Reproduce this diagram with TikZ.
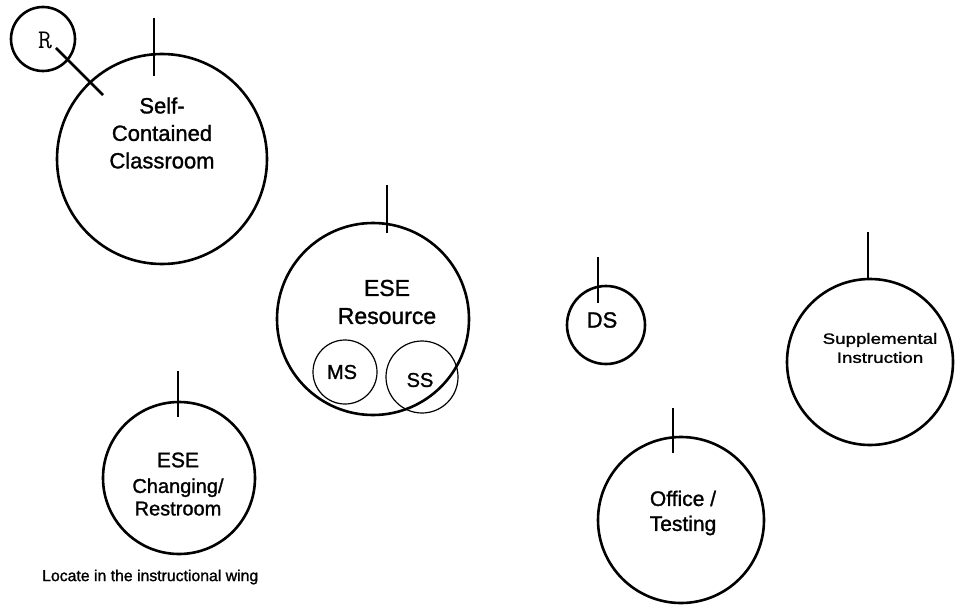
\documentclass[tikz,border=0pt]{standalone}
\usepackage{fontspec}
\setmainfont{Liberation Sans}[FakeBold=1.3]
\begin{document}
\begin{tikzpicture}[x=1pt,y=-1pt,
  room/.style={circle, draw, line width=2.6pt, inner sep=0pt},
  subroom/.style={circle, draw, line width=1.2pt, inner sep=0pt},
  tick/.style={line width=2.6pt},
  lbl/.style={align=center, inner sep=0pt},
]
\useasboundingbox (0,0) rectangle (955,607);

% rooms
\node[room, minimum size=210pt] (sc)  at (162,159) {};
\node[room, minimum size=64pt]  (r)   at (43,39) {};
\node[room, minimum size=192pt] (res) at (373,319) {};
\node[subroom, minimum size=64pt] (ms) at (345,372) {};
\node[subroom, minimum size=72pt] (ss) at (422,377) {};
\node[room, minimum size=78pt]  (ds)  at (606,325) {};
\node[room, minimum size=166pt] (sup) at (870,362) {};
\node[room, minimum size=152pt] (chg) at (179,478) {};
\node[room, minimum size=166pt] (off) at (681,520) {};

% labels
\node[lbl, font=\fontsize{22}{27.5}\selectfont] (scl) at (162,133) {Self-\\Contained\\Classroom};
\node[lbl, font=\ttfamily\fontsize{27}{27}\selectfont] (rl) at (45,40) {R};
\node[lbl, font=\fontsize{23}{28}\selectfont] (resl) at (387,302) {ESE\\Resource};
\node[lbl, font=\fontsize{20}{20}\selectfont] (msl) at (342,372) {MS};
\node[lbl, font=\fontsize{20}{20}\selectfont] (ssl) at (420,380) {SS};
\node[lbl, font=\fontsize{22}{22}\selectfont] (dsl) at (602,320) {DS};
\node[lbl, font=\fontsize{15}{19}\selectfont] (supl) at (880,348)
  {\scalebox{1.25}[1]{Supplemental}\\\scalebox{1.25}[1]{Instruction}};
\node[lbl, font=\fontsize{21}{21}\selectfont] (chge) at (178,460) {ESE};
\node[lbl, font=\fontsize{20}{22.5}\selectfont] (chgl) at (178,497) {Changing/\\Restroom};
\node[lbl, font=\fontsize{21}{25}\selectfont] (offl) at (683,513) {Office /\\Testing};
\node[font=\fontsize{15.8}{18}\selectfont, anchor=west, inner sep=0pt] (note) at (42,577)
  {Locate in the instructional wing};

% entry ticks
\coordinate (scT)  at (154,18);  \coordinate (scB)  at (154,76);
\coordinate (rA)   at (56,48);   \coordinate (rB)   at (103,95);
\coordinate (resT) at (387,185); \coordinate (resB) at (387,233);
\coordinate (dsT)  at (598,257); \coordinate (dsB)  at (598,303);
\coordinate (supT) at (868,232); \coordinate (supB) at (868,278);
\coordinate (chgT) at (178,371); \coordinate (chgB) at (178,417);
\coordinate (offT) at (673,408); \coordinate (offB) at (673,453);

\draw[tick] (scT) -- (scB);
\draw[tick] (rA) -- (rB);
\draw[tick] (resT) -- (resB);
\draw[tick] (dsT) -- (dsB);
\draw[tick] (supT) -- (supB);
\draw[tick] (chgT) -- (chgB);
\draw[tick] (offT) -- (offB);
\end{tikzpicture}
\end{document}
